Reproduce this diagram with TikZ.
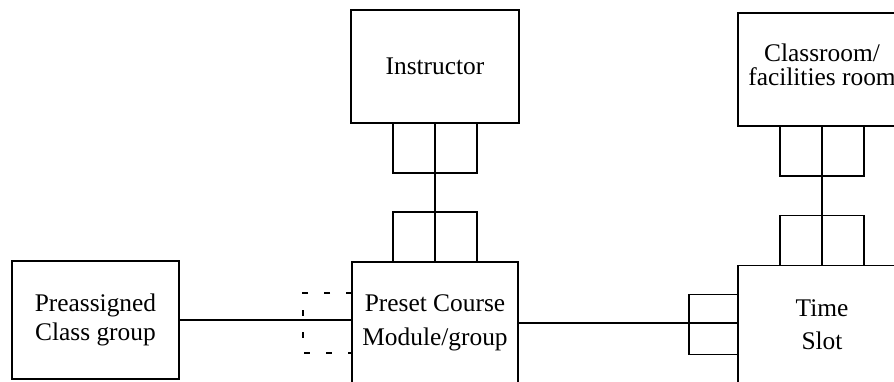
\documentclass[tikz,border=0pt]{standalone}
\usepackage{fontspec}
\setmainfont{Liberation Serif}
\begin{document}
\begin{tikzpicture}[x=0.5pt,y=-0.5pt,
  every node/.style={inner sep=0pt, outer sep=0pt},
  entity/.style={draw, line width=0.6pt, minimum width=84pt, align=center,
    font=\fontsize{12.7}{#1}\selectfont},
  linkbox/.style={draw, line width=0.6pt, minimum width=42pt, minimum height=25pt},
  sidebox/.style={minimum width=24.5pt, minimum height=30pt},
  conn/.style={line width=0.6pt},
  optional/.style={line width=0.6pt, dash pattern=on 3pt off 8pt}]
\useasboundingbox (0,0) rectangle (894,381);

% entities
\node[entity=12pt, minimum height=56.5pt] (instr) at (435,66.5) {Instructor};
\node[entity=12pt, minimum height=56.5pt, text depth=5pt] (class) at (822,69.5)
  {Classroom/\\facilities room};
\node[entity=14.5pt, minimum width=83.5pt, minimum height=59pt] (pre) at (95.5,320)
  {Preassigned\\Class group};
\node[entity=17pt, minimum width=83pt, minimum height=61pt, text depth=3pt] (preset) at (435,323)
  {Preset Course\\Module/group};
\node[entity=16.5pt, minimum height=59pt] (slot) at (822,324.5) {Time\\Slot};

% relationship ends
\node[linkbox, anchor=north] (instr-end) at (instr.south) {};
\node[linkbox, anchor=south] (preset-top) at (preset.north) {};
\node[linkbox, anchor=north] (class-end) at (class.south) {};
\node[linkbox, anchor=south] (slot-top) at (slot.north) {};
\node[sidebox, draw, line width=0.6pt, anchor=east] (slot-side) at (slot.west) {};
\node[sidebox, anchor=east] (preset-side) at (preset.west) {};
\draw[optional] (preset-side.north east) -| (preset-side.south west)
  -- (preset-side.south east);

% connectors
\draw[conn] (instr) -- (preset);
\draw[conn] (class) -- (slot);
\draw[conn] (pre.east) -- (pre.east -| preset.west);
\draw[conn] (preset.east) -- (preset.east -| slot.west);
\end{tikzpicture}
\end{document}
